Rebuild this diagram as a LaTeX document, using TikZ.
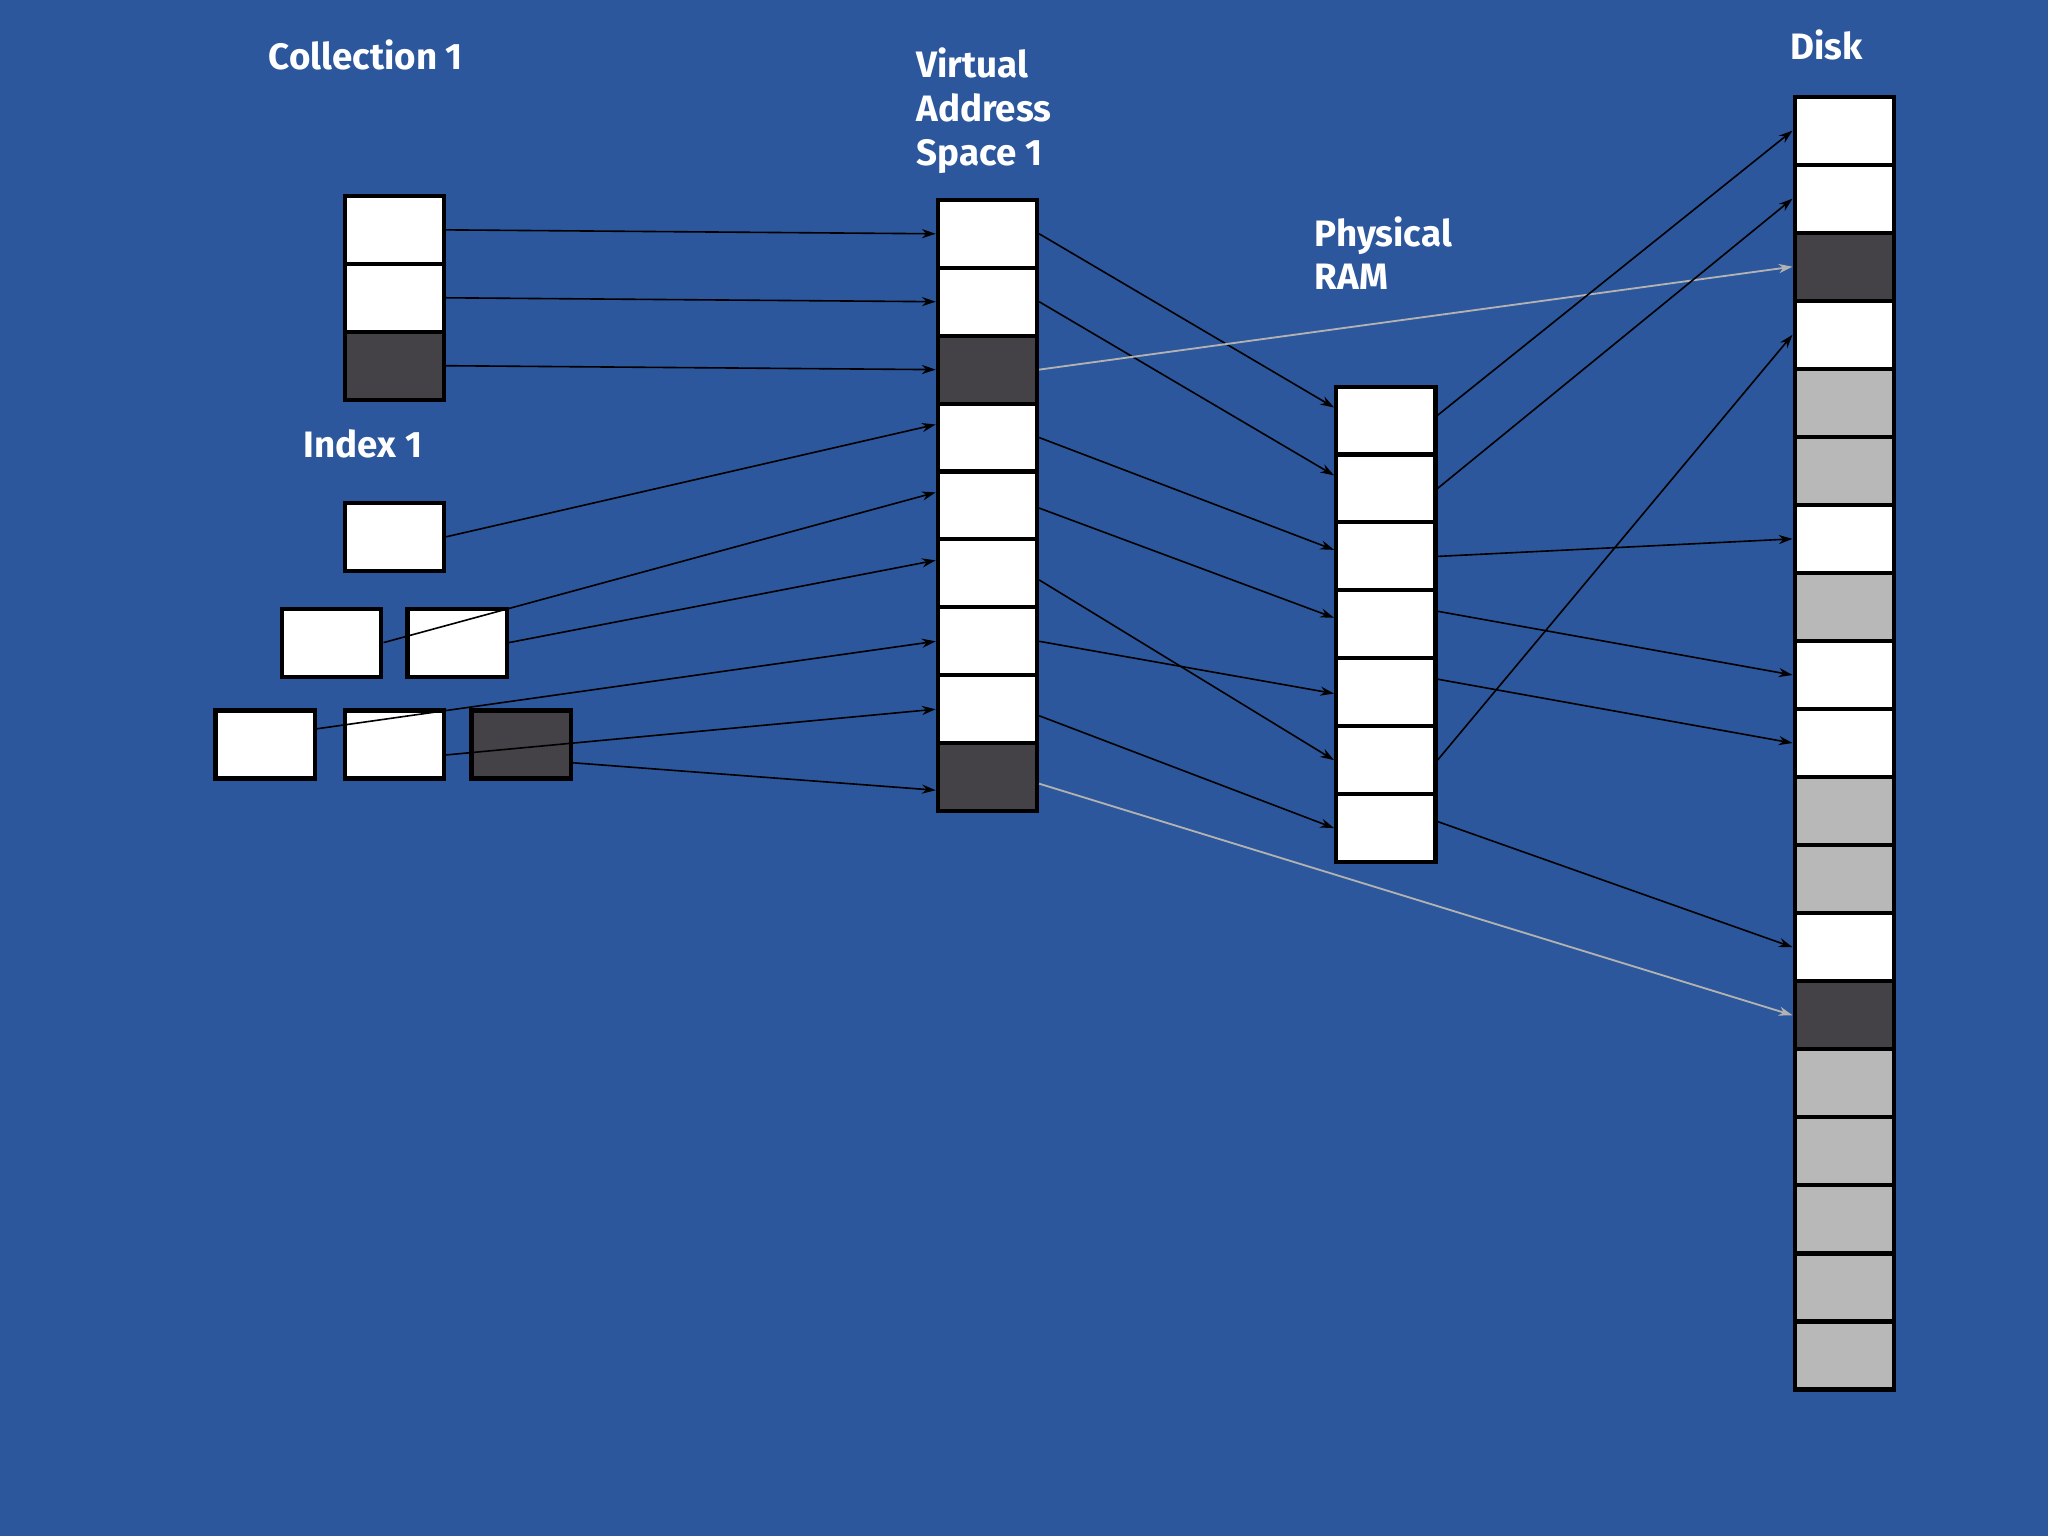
\documentclass[tikz,border=0pt]{standalone}
\usepackage{fontspec}
\setmainfont{Fira Sans}
\usetikzlibrary{arrows.meta}
\definecolor{bgblue}{HTML}{2C579C}
\definecolor{darkcell}{HTML}{444246}
\definecolor{graycell}{HTML}{B8B8B8}
\tikzset{
  cell/.style={draw=black, line width=0.9pt, fill=white, minimum width=0.76cm, minimum height=0.52cm, inner sep=0},
  dark/.style={cell, fill=darkcell},
  grey/.style={cell, fill=graycell},
  title/.style={text=white, font=\bfseries\fontsize{8}{9.5}\selectfont, anchor=north west, align=left, inner sep=0},
  map/.style={-{Stealth[length=3pt,width=2pt]}, line width=0.35pt, black},
  swap/.style={map, draw=gray!60, line width=0.4pt}
}
\begin{document}
\begin{tikzpicture}[x=0.01cm,y=-0.01cm]
  \fill[bgblue] (0,0) rectangle (1568,1176);
  \useasboundingbox (0,0) rectangle (1568,1176);

  % titles
  \node[title] (tcoll) at (205,30) {Collection 1};
  \node[title] (tindex) at (232,328) {Index 1};
  \node[title] (tvirt) at (701,36) {Virtual\\Address\\Space 1};
  \node[title] (tphys) at (1006,165) {Physical\\RAM};
  \node[title] (tdisk) at (1370,22) {Disk};

  % collection
  \node[cell] (c0) at (302,176) {};
  \node[cell] (c1) at (302,228) {};
  \node[dark] (c2) at (302,280) {};

  % index tree
  \node[cell] (i0) at (302,411) {};
  \node[cell] (i1) at (254,492) {};
  \node[cell] (i2) at (350,492) {};
  \node[cell] (i3) at (203,570) {};
  \node[cell] (i4) at (302,570) {};
  \node[dark] (i5) at (399,570) {};

  % virtual address space
  \foreach \i in {0,...,8}
    \node[cell] (v\i) at (756,179+52*\i) {};
  \node[dark] at (v2) {};
  \node[dark] at (v8) {};

  % physical ram
  \foreach \i in {0,...,6}
    \node[cell] (p\i) at (1061,322+52*\i) {};

  % disk
  \foreach \i/\s in {0/cell,1/cell,2/dark,3/cell,4/grey,5/grey,6/cell,7/grey,8/cell,9/cell,
                     10/grey,11/grey,12/cell,13/dark,14/grey,15/grey,16/grey,17/grey,18/grey}
    \node[\s] (d\i) at (1412,100+52.1*\i) {};

  % collection -> virtual
  \foreach \i in {0,1,2}
    \draw[map] (c\i.east) -- (v\i.west);

  % index -> virtual
  \draw[map] (i0.east) -- ([yshift=0.1cm]v3.west);
  \draw[map] (i1.east) -- ([yshift=0.1cm]v4.west);
  \draw[map] (i2.east) -- ([yshift=0.1cm]v5.west);
  \draw[map] ([yshift=0.12cm]i3.east) -- ([yshift=0.0cm]v6.west);
  \draw[map] ([yshift=-0.08cm]i4.east) -- (v7.west);
  \draw[map] ([yshift=-0.14cm]i5.east) -- ([yshift=-0.1cm]v8.west);

  % virtual -> physical
  \draw[map] (v0.east) -- ([yshift=0.1cm]p0.west);
  \draw[map] (v1.east) -- ([yshift=0.1cm]p1.west);
  \draw[map] (v3.east) -- ([yshift=0.05cm]p2.west);
  \draw[map] ([yshift=-0.02cm]v4.east) -- ([yshift=0.05cm]p3.west);
  \draw[map] ([yshift=-0.05cm]v5.east) -- (p5.west);
  \draw[map] (v6.east) -- ([yshift=-0.01cm]p4.west);
  \draw[map] ([yshift=-0.05cm]v7.east) -- (p6.west);

  % virtual -> disk (swapped)
  \draw[swap] ([yshift=0cm]v2.east) -- (d2.west);
  \draw[swap] ([yshift=-0.05cm]v8.east) -- ([yshift=0cm]d13.west);

  % physical -> disk
  \draw[map] ([yshift=0.04cm]p0.east) -- (d0.west);
  \draw[map] (p1.east) -- (d1.west);
  \draw[map] (p2.east) -- (d6.west);
  \draw[map] ([yshift=0.1cm]p3.east) -- (d8.west);
  \draw[map] ([yshift=0.1cm]p4.east) -- (d9.west);
  \draw[map] (p5.east) -- (d3.west);
  \draw[map] ([yshift=0.05cm]p6.east) -- (d12.west);
\end{tikzpicture}
\end{document}
